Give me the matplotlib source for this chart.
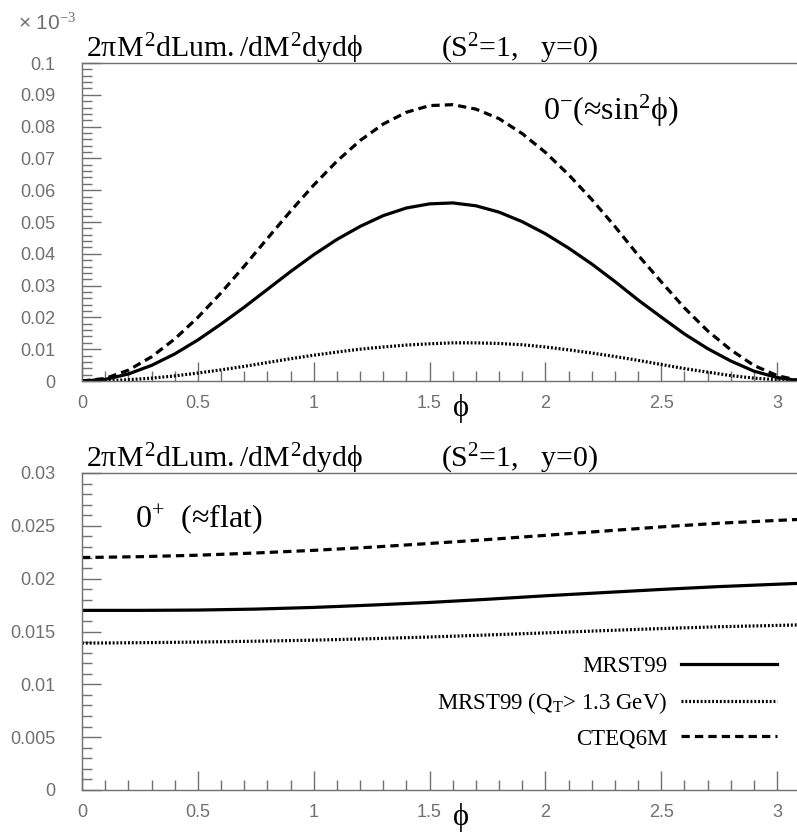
import matplotlib
matplotlib.use("Agg")
import matplotlib.pyplot as plt
from matplotlib.ticker import MultipleLocator, FormatStrFormatter

plt.rcParams['mathtext.fontset'] = 'custom'
plt.rcParams['mathtext.rm'] = 'Liberation Serif'
plt.rcParams['mathtext.it'] = 'Liberation Serif'
plt.rcParams['mathtext.bf'] = 'Liberation Serif:bold'

phi_odd = [0.0, 0.1, 0.2, 0.3, 0.4, 0.5, 0.6, 0.7, 0.8, 0.9, 1.0, 1.1, 1.2, 1.3, 1.4, 1.5,
		   1.6, 1.7, 1.8, 1.9, 2.0, 2.1, 2.2, 2.3, 2.4, 2.5, 2.6, 2.7, 2.8, 2.9, 3.0, 3.086]
mrst_odd = [0.0, 0.0005, 0.0022, 0.0049, 0.0085, 0.0129, 0.0179, 0.0232, 0.0288, 0.0344, 0.0397,
			0.0445, 0.0486, 0.0520, 0.0544, 0.0557, 0.0560, 0.0551, 0.0531, 0.0501, 0.0463, 0.0418,
			0.0368, 0.0313, 0.0255, 0.0201, 0.0148, 0.0102, 0.0063, 0.0031, 0.0011, 0.0002]
mrst_qt_odd = [0.0, 0.0001, 0.0004, 0.0009, 0.0016, 0.0025, 0.0035, 0.0046, 0.0058, 0.0070, 0.0081,
			   0.0091, 0.0100, 0.0107, 0.0113, 0.0117, 0.0120, 0.0120, 0.0118, 0.0114, 0.0107, 0.0098,
			   0.0088, 0.0077, 0.0065, 0.0052, 0.0039, 0.0028, 0.0017, 0.0009, 0.0004, 0.0001]
cteq_odd = [0.0, 0.0008, 0.0034, 0.0076, 0.0132, 0.0200, 0.0277, 0.0361, 0.0448, 0.0534, 0.0616,
			0.0691, 0.0756, 0.0808, 0.0845, 0.0866, 0.0869, 0.0855, 0.0825, 0.0778, 0.0719, 0.0649,
			0.0571, 0.0486, 0.0396, 0.0312, 0.0230, 0.0158, 0.0098, 0.0049, 0.0017, 0.0003]

# 0+ (scalar) panel, nearly flat
phi_even = [0.0, 0.25, 0.5, 0.75, 1.0, 1.25, 1.5, 1.75, 2.0, 2.25, 2.5, 2.75, 3.086]
mrst_even = [0.0170, 0.01700, 0.01703, 0.01712, 0.01728, 0.01750, 0.01775, 0.01805, 0.01838,
			 0.01868, 0.01898, 0.01925, 0.01955]
mrst_qt_even = [0.0139, 0.01394, 0.01400, 0.01408, 0.01418, 0.01432, 0.01448, 0.01467, 0.01487,
				0.01508, 0.01528, 0.01545, 0.01562]
cteq_even = [0.0220, 0.02208, 0.02222, 0.02243, 0.02268, 0.02298, 0.02333, 0.02370, 0.02410,
			 0.02450, 0.02490, 0.02525, 0.02560]

labels = ['MRST99', r'MRST99 (Q$_{\rm T}$> 1.3 GeV)', 'CTEQ6M']

GREY = '#707070'
W, H = 797, 836
fig = plt.figure(figsize=(W / 100, H / 100), dpi=100)


def frac(px_left, px_top, px_right, px_bottom):
	return [px_left / W, 1 - px_bottom / H, (px_right - px_left) / W, (px_bottom - px_top) / H]


def style_axes(ax, ymax, ymajor, yminor):
	ax.set_xlim(0, 3.086)
	ax.set_ylim(0, ymax)
	ax.xaxis.set_major_locator(MultipleLocator(0.5))
	ax.xaxis.set_minor_locator(MultipleLocator(0.1))
	ax.yaxis.set_major_locator(MultipleLocator(ymajor))
	ax.yaxis.set_minor_locator(MultipleLocator(yminor))
	ax.xaxis.set_major_formatter(FormatStrFormatter('%g'))
	ax.yaxis.set_major_formatter(FormatStrFormatter('%g'))
	ax.tick_params(which='both', direction='in', color=GREY, width=1,
				   labelcolor=GREY, labelsize=13, top=False, right=False)
	ax.tick_params(which='major', length=14)
	ax.tick_params(which='minor', length=7)
	ax.tick_params(axis='y', pad=19)
	ax.tick_params(axis='x', pad=10)
	for lab in ax.get_xticklabels() + ax.get_yticklabels():
		lab.set_family('Liberation Sans')
	ax.spines['right'].set_visible(False)
	for s in ['left', 'bottom', 'top']:
		ax.spines[s].set_color(GREY)
		ax.spines[s].set_linewidth(1)
	ax.set_xlabel(r'$\phi$', fontsize=22, labelpad=0)
	ax.xaxis.set_label_coords((460 - 82) / 715, -0.036)
	ax.text(0.005, 1.018, r'$2\pi M^2 dLum./dM^2 dyd\phi$', transform=ax.transAxes,
			fontsize=21.5, family='Liberation Serif', va='baseline', ha='left')
	ax.text((441 - 82) / 715, 1.018, r'(S$^2$=1,   y=0)', transform=ax.transAxes,
			fontsize=21.5, family='Liberation Serif', va='baseline', ha='left')


def draw(ax, phi, a, b, c):
	l1, = ax.plot(phi, a, color='black', lw=2.3, ls='-')
	l2, = ax.plot(phi, b, color='black', lw=2.3, ls=(0, (0.6, 0.6)))
	l3, = ax.plot(phi, c, color='black', lw=2.3, ls=(0, (2.6, 1.6)))
	return [l1, l2, l3]


# top panel: 0-
ax1 = fig.add_axes(frac(82, 63, 797, 381))
draw(ax1, phi_odd, mrst_odd, mrst_qt_odd, cteq_odd)
style_axes(ax1, 0.1, 0.01, 0.002)
ax1.text((543 - 82) / 715, (381 - 120) / 318, r'0$^{-}$(≈sin$^2\phi$)',
		 transform=ax1.transAxes, fontsize=23, family='Liberation Serif', va='baseline')
fig.text(18 / W, 1 - 30 / H, r'× 10$^{-3}$', color=GREY, fontsize=15,
		 family='Liberation Sans', va='baseline')

# bottom panel: 0+
ax2 = fig.add_axes(frac(82, 473, 797, 790))
lines = draw(ax2, phi_even, mrst_even, mrst_qt_even, cteq_even)
style_axes(ax2, 0.03, 0.005, 0.001)
ax2.text((135 - 82) / 715, (790 - 527) / 317, r'0$^{+}$  (≈flat)',
		 transform=ax2.transAxes, fontsize=23, family='Liberation Serif', va='baseline')

ax2.legend(lines, labels, loc='upper right', bbox_to_anchor=((777 - 82) / 715, (790 - 656) / 317),
		   frameon=False, markerfirst=False, handlelength=4.2, handletextpad=0.57,
		   labelspacing=0.55, borderpad=0, borderaxespad=0,
		   prop={'family': 'Liberation Serif', 'size': 16.5})

fig.savefig('out.png', dpi=100)
